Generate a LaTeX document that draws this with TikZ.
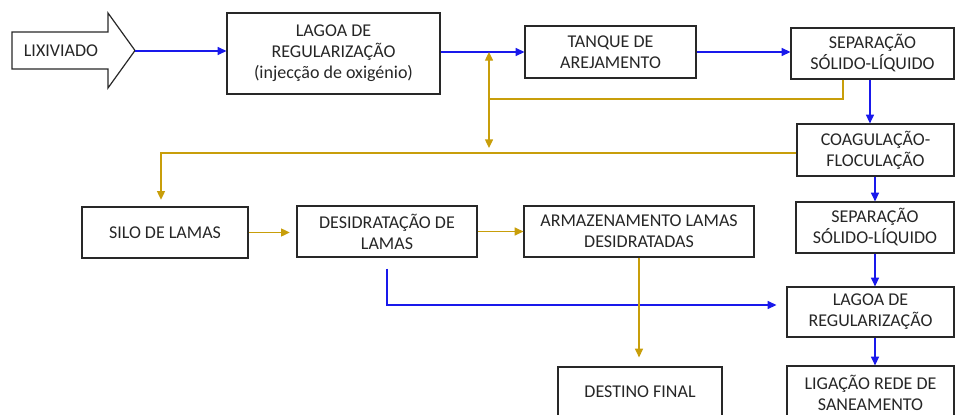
\documentclass[tikz,border=0pt]{standalone}
\usepackage{fontspec}
\setmainfont{Carlito}
\usetikzlibrary{arrows.meta,calc}
\definecolor{flowblue}{RGB}{25,25,235}
\definecolor{flowgold}{RGB}{200,158,10}
\definecolor{boxline}{RGB}{40,40,40}
\begin{document}
\begin{tikzpicture}[x=0.75pt,y=-0.75pt,
  font=\fontsize{13.5pt}{15.75pt}\selectfont,
  sz/.style 2 args={minimum width={#1*0.75pt},minimum height={#2*0.75pt}},
  box/.style={draw=boxline,line width=0.9pt,align=center,inner sep=0pt,text=black!85},
  bflow/.style={draw=flowblue,line width=1pt,-{Triangle[length=6.5pt,width=6pt]}},
  gflow/.style={draw=flowgold,line width=1pt,-{Triangle[length=6.5pt,width=6pt]}},
  gline/.style={draw=flowgold,line width=1pt}]
\clip (0,0) rectangle (955,414);
% input arrow
\draw[boxline,line width=0.9pt,fill=white] (12,32) -- (108,32) -- (108,13) -- (135,50.5) -- (108,88) -- (108,69) -- (12,69) -- cycle;
\node[text=black!85] (lix) at (61,51) {LIXIVIADO};
\coordinate (lixtip) at (135,51);
% boxes
\node[box,sz={213}{81}] (lagoa1) at (333.5,53.5) {LAGOA DE\\REGULARIZAÇÃO\\(injecção de oxigénio)};
\node[box,sz={171}{52}] (tanque) at (610.5,52) {TANQUE DE\\AREJAMENTO};
\node[box,sz={163}{51}] (sep1) at (872.5,53.5) {SEPARAÇÃO\\SÓLIDO-LÍQUIDO};
\node[box,sz={157}{52}] (coag) at (875.5,150) {COAGULAÇÃO-\\FLOCULAÇÃO};
\node[box,sz={166}{51}] (silo) at (165,232.5) {SILO DE LAMAS};
\node[box,sz={180}{51}] (desid) at (387,231.5) {DESIDRATAÇÃO DE\\LAMAS};
\node[box,sz={230}{51}] (armaz) at (639,231.5) {ARMAZENAMENTO LAMAS\\DESIDRATADAS};
\node[box,sz={158}{51}] (sep2) at (875,227.5) {SEPARAÇÃO\\SÓLIDO-LÍQUIDO};
\node[box,sz={167}{50}] (lagoa2) at (870.5,312) {LAGOA DE\\REGULARIZAÇÃO};
\node[box,sz={167}{54}] (ligacao) at (870.5,393) {LIGAÇÃO REDE DE\\SANEAMENTO};
\node[box,sz={164}{50}] (destino) at (640,392) {DESTINO FINAL};
% blue main line
\draw[bflow] (lixtip) -- (lixtip -| lagoa1.west);
\draw[bflow] (lagoa1.east |- tanque.west) -- (tanque.west);
\draw[bflow] (tanque.east) -- (tanque.east -| sep1.west);
\draw[bflow] ([xshift=-1.9pt]sep1.south) -- ([xshift=-1.9pt]sep1.south |- coag.north);
\draw[bflow] (sep2.north |- coag.south) -- (sep2.north);
\draw[bflow] (sep2.south) -- (sep2.south |- lagoa2.north);
\draw[bflow] (sep2.south |- lagoa2.south) -- (sep2.south |- ligacao.north);
\draw[bflow] ([yshift=-8.25pt]desid.south) |- ([shift={(-7.5pt,5.25pt)}]lagoa2.west);
% gold sludge lines
\coordinate (gj) at (489,99);
\draw[gline] ([xshift=-22.1pt]sep1.south) |- (gj);
\draw[gflow] (gj) -- (gj |- tanque.west);
\draw[gflow] (gj) -- ++(0,49);
\draw[gflow,shorten >=5pt] ([yshift=-2.25pt]coag.west) -| ([xshift=-3pt]silo.north);
\draw[gflow,shorten >=5pt] (silo.east) -- (silo.east -| desid.west);
\draw[gflow] (desid.east) -- (desid.east -| armaz.west);
\draw[gflow,shorten >=6.75pt] (armaz.south) -- (armaz.south |- destino.north);
\end{tikzpicture}
\end{document}
